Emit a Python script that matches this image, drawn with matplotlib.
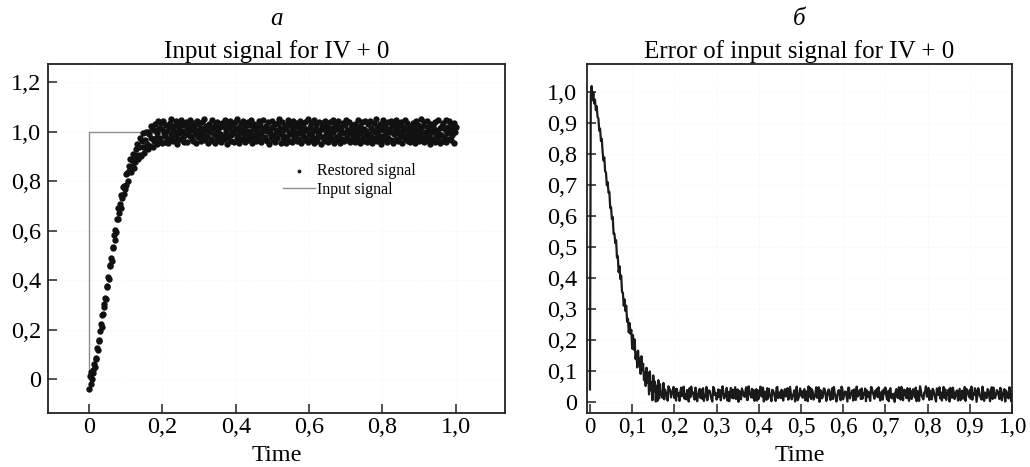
import numpy as np
import matplotlib
matplotlib.use("Agg")
import matplotlib.pyplot as plt

plt.rcParams['font.family'] = ['Liberation Serif', 'DejaVu Serif']

# ---------------- data ----------------
# restored signal, sampled every 0.002 on [0, 1]: rising part (t < 0.2)
restored_rise = [
    -0.040, 0.011, -0.018, 0.028, 0.002, 0.038, 0.026, 0.060, 0.047, 0.082,
    0.086, 0.126, 0.119, 0.159, 0.152, 0.194, 0.222, 0.212, 0.257, 0.261,
    0.302, 0.292, 0.326, 0.323, 0.375, 0.373, 0.411, 0.404, 0.459, 0.458,
    0.488, 0.479, 0.535, 0.530, 0.582, 0.563, 0.604, 0.593, 0.646, 0.648,
    0.690, 0.670, 0.707, 0.690, 0.742, 0.732, 0.776, 0.746, 0.781, 0.768,
    0.828, 0.785, 0.832, 0.799, 0.862, 0.841, 0.889, 0.835, 0.885, 0.860,
    0.910, 0.853, 0.898, 0.877, 0.930, 0.906, 0.949, 0.890, 0.938, 0.906,
    0.976, 0.902, 0.963, 0.936, 0.995, 0.915, 0.966, 0.935, 0.999, 0.948,
    0.997, 0.930, 0.989, 0.943, 1.023, 0.974, 1.013, 0.939, 1.008, 0.960,
    1.029, 0.975, 0.996, 0.950, 1.041, 0.960, 1.014, 0.975, 1.034, 0.952,
]
# steady-state part (t = 0.2 ... 1.0)
restored_band = [
    1.012, 1.041, 0.996, 0.958, 0.981, 1.027, 1.003, 0.969, 0.954, 1.018, 1.036, 1.049, 0.990, 0.975, 1.008, 0.962, 1.023, 0.999, 1.044, 0.985,
    0.951, 0.972, 1.031, 1.015, 0.993, 1.046, 0.967, 1.002, 0.979, 1.026, 0.958, 0.988, 1.039, 1.010, 0.956, 0.997, 1.021, 0.983, 1.048, 1.005,
    0.970, 0.963, 1.034, 1.019, 0.991, 1.001, 0.952, 1.043, 0.978, 1.029, 1.007, 0.986, 0.960, 1.016, 1.038, 0.995, 0.974, 1.050, 0.966, 1.011,
    1.024, 0.982, 0.955, 1.004, 1.032, 0.998, 0.971, 1.045, 1.013, 0.961, 0.989, 1.027, 0.953, 1.009, 0.977, 1.040, 1.000, 0.965, 1.018, 0.992,
    0.957, 1.035, 1.022, 0.984, 0.968, 1.047, 1.006, 0.994, 0.950, 1.030, 0.976, 1.014, 1.042, 0.987, 0.962, 1.003, 1.025, 0.959, 0.996, 1.037,
    1.010, 0.973, 1.049, 0.981, 1.017, 0.954, 0.999, 1.033, 0.969, 1.006, 1.044, 0.990, 0.958, 1.021, 0.979, 1.002, 1.039, 0.964, 1.028, 0.985,
    0.997, 1.046, 0.952, 1.012, 0.975, 1.031, 0.988, 0.961, 1.019, 1.004, 0.967, 1.041, 0.983, 1.026, 0.956, 0.993, 1.015, 1.048, 0.971, 1.008,
    0.980, 1.023, 0.963, 1.001, 1.037, 0.951, 0.995, 1.011, 0.978, 1.043, 1.020, 0.966, 0.987, 1.029, 0.959, 1.005, 0.974, 1.034, 0.998, 1.050,
    1.016, 0.955, 0.991, 1.040, 0.969, 1.007, 0.984, 1.025, 0.953, 1.013, 0.977, 1.047, 1.000, 0.962, 1.032, 0.989, 1.018, 0.957, 1.042, 0.973,
    1.003, 0.986, 1.036, 0.960, 1.022, 0.994, 0.970, 1.044, 1.009, 0.952, 1.027, 0.981, 0.999, 1.014, 0.965, 1.038, 0.976, 1.005, 1.049, 0.958,
    0.992, 1.020, 0.967, 1.033, 0.982, 1.001, 0.954, 1.045, 1.011, 0.975, 1.028, 0.963, 0.996, 1.040, 0.987, 1.006, 0.951, 1.017, 0.979, 1.035,
    0.961, 1.009, 1.043, 0.990, 0.972, 1.024, 0.957, 1.002, 1.037, 0.983, 0.968, 1.015, 0.997, 1.048, 0.955, 1.030, 0.978, 1.010, 0.964, 1.021,
    1.042, 0.985, 0.953, 1.019, 1.004, 0.971, 1.034, 0.993, 0.960, 1.027, 1.046, 0.980, 1.008, 0.966, 0.998, 1.038, 0.956, 1.013, 0.989, 1.025,
    0.974, 1.000, 1.031, 0.959, 1.016, 0.988, 1.047, 0.969, 1.007, 0.952, 1.023, 0.995, 1.039, 0.977, 0.963, 1.012, 1.044, 0.984, 1.003, 0.957,
    1.029, 0.991, 0.966, 1.041, 0.979, 1.014, 0.954, 1.002, 1.035, 0.973, 0.997, 1.050, 0.961, 1.020, 0.986, 1.008, 0.970, 1.032, 0.950, 1.017,
    0.983, 1.045, 1.006, 0.964, 1.026, 0.992, 0.958, 1.037, 0.976, 1.011, 0.999, 1.043, 0.967, 1.022, 0.953, 0.989, 1.030, 1.004, 0.972, 1.048,
    1.013, 0.960, 0.994, 1.028, 0.978, 1.040, 1.001, 0.955, 1.019, 0.987, 1.046, 0.969, 1.009, 0.981, 1.034, 0.963, 0.996, 1.024, 0.958, 1.005,
    0.975, 1.036, 0.990, 1.015, 0.952, 1.003, 1.042, 0.968, 1.027, 0.984, 0.961, 1.010, 1.049, 0.993, 0.973, 1.021, 0.956, 1.038, 1.000, 0.979,
    1.044, 0.965, 1.018, 0.986, 1.007, 0.951, 1.031, 0.997, 0.970, 1.025, 1.012, 0.959, 1.039, 0.982, 1.002, 0.967, 1.047, 0.991, 0.954, 1.016,
    0.988, 1.023, 0.962, 1.033, 0.977, 1.009, 1.045, 0.957, 0.995, 1.020, 0.971, 1.041, 1.001, 0.964, 1.028, 0.985, 1.011, 0.953, 1.036, 0.998,
    1.019,
]
t_start, t_end = 0.0, 1.0

# input signal: unit step at t = 0
input_t = [0.0, 0.0, 1.0]
input_y = [0.0, 1.0, 1.0]
input_level = 1.0

left_xticks = [0, 0.2, 0.4, 0.6, 0.8, 1.0]
left_xlabels = ["0", "0,2", "0,4", "0,6", "0,8", "1,0"]
left_yticks = [0, 0.2, 0.4, 0.6, 0.8, 1.0, 1.2]
left_ylabels = ["0", "0,2", "0,4", "0,6", "0,8", "1,0", "1,2"]
right_xticks = [0, 0.1, 0.2, 0.3, 0.4, 0.5, 0.6, 0.7, 0.8, 0.9, 1.0]
right_xlabels = ["0", "0,1", "0,2", "0,3", "0,4", "0,5", "0,6", "0,7", "0,8", "0,9", "1,0"]
right_yticks = [0, 0.1, 0.2, 0.3, 0.4, 0.5, 0.6, 0.7, 0.8, 0.9, 1.0]
right_ylabels = ["0", "0,1", "0,2", "0,3", "0,4", "0,5", "0,6", "0,7", "0,8", "0,9", "1,0"]

# ---------------- derived ----------------
restored = np.array(restored_rise + restored_band)
time = np.linspace(t_start, t_end, len(restored))
input_sampled = np.where(time > 0, input_level, 0.0)
error = np.abs(input_sampled - restored)

# ---------------- figure ----------------
W, H = 1030, 467
fig = plt.figure(figsize=(W / 100, H / 100), dpi=100)

def px_axes(x0, x1, y0, y1):
    return fig.add_axes([x0 / W, 1 - y1 / H, (x1 - x0) / W, (y1 - y0) / H])

axA = px_axes(48, 505, 64, 413)
axB = px_axes(587, 1012, 64, 413)

FS = 17.5
spine_col = "#222222"

def style(ax, ypad, xsize):
    for s in ax.spines.values():
        s.set_color(spine_col)
        s.set_linewidth(1.3)
    ax.tick_params(axis="both", direction="in", length=6.5, width=1.1,
                   color=spine_col, labelsize=FS, top=False, right=False)
    ax.tick_params(axis="x", pad=3, labelsize=xsize)
    ax.tick_params(axis="y", pad=ypad)
    ax.grid(True, color="#f2f2f2", linewidth=0.6, linestyle=":")
    ax.set_axisbelow(True)

# panel a
axA.plot(input_t, input_y, color="#8c8c8c", linewidth=1.0, label="Input signal", zorder=2)
axA.scatter(time, restored, s=21, color="#111111", linewidths=0, label="Restored signal", zorder=3)
axA.set_xlim(-0.112, 1.134)
axA.set_ylim(-0.137, 1.273)
axA.set_xticks(left_xticks)
axA.set_xticklabels(left_xlabels)
axA.set_yticks(left_yticks)
axA.set_yticklabels(left_ylabels)
style(axA, 5, FS)
axA.set_xlabel("Time", fontsize=FS, labelpad=5)
axA.set_title("Input signal for IV + 0", fontsize=18, pad=4)
axA.text(0.5, 1.13, "a", transform=axA.transAxes, ha="center", va="center",
         fontsize=18, style="italic")
h, l = axA.get_legend_handles_labels()
order = [l.index("Restored signal"), l.index("Input signal")]
axA.legend([h[i] for i in order], [l[i] for i in order], loc="upper left",
           bbox_to_anchor=(0.514, 0.716), frameon=False, fontsize=11.5,
           borderpad=0, borderaxespad=0, handlelength=2.0, handletextpad=0.15,
           labelspacing=0.15, markerscale=0.6)

# panel б
axB.plot(time, error, color="#1a1a1a", linewidth=1.6, zorder=3)
axB.set_xlim(-0.007, 1.0)
axB.set_ylim(-0.036, 1.089)
axB.set_xticks(right_xticks)
axB.set_xticklabels(right_xlabels)
axB.set_yticks(right_yticks)
axB.set_yticklabels(right_ylabels)
style(axB, 7, 16.5)
axB.set_xlabel("Time", fontsize=FS, labelpad=5)
axB.set_title("Error of input signal for IV + 0", fontsize=18, pad=4)
axB.text(0.5, 1.13, "б", transform=axB.transAxes, ha="center", va="center",
         fontsize=18, style="italic")

fig.savefig("out.png", dpi=100)
